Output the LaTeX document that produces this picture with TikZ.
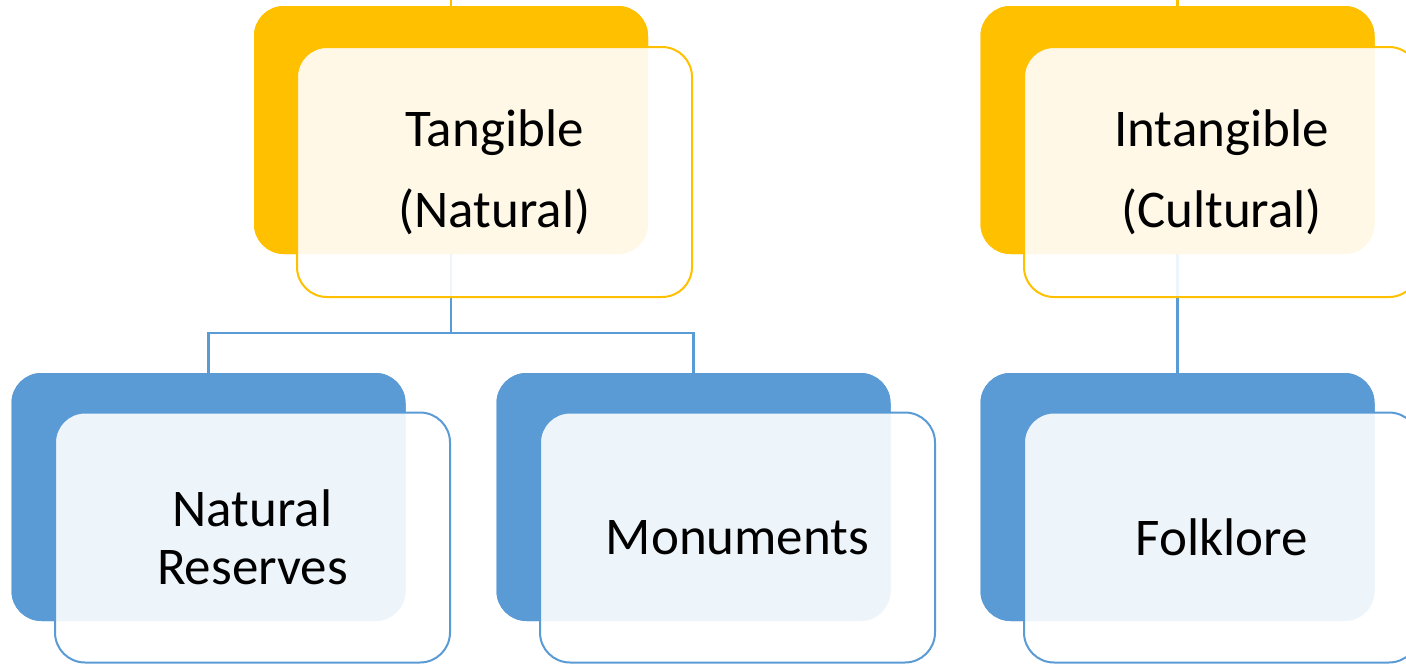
\documentclass[tikz,border=0pt]{standalone}
\usepackage{fontspec}
\setmainfont{Carlito}
\definecolor{gold}{HTML}{FFC000}
\definecolor{sky}{HTML}{5B9BD5}
\begin{document}
\begin{tikzpicture}[x=1pt,y=-1pt,
  back/.style={rectangle,rounded corners=30pt,minimum width=394pt,minimum height=248pt,inner sep=0pt},
  front/.style={rectangle,rounded corners=30pt,minimum width=395pt,minimum height=250pt,inner sep=0pt,
    fill=white,fill opacity=0.9,text opacity=1,line width=2pt,align=center,text=black},
  conn/.style={draw=sky,line width=2.5pt}]
\useasboundingbox (0,0) rectangle (1406,664);
\coordinate (topL) at (451,0);
\coordinate (topR) at (1177.5,0);
\coordinate (bus) at (451,333);
% back boxes (placed first to name them)
\node[back,fill=gold] (tD) at (451,130) {};
\node[back,fill=gold] (iD) at (1177.5,130) {};
\node[back,fill=sky] (nD) at (208.5,497) {};
\node[back,fill=sky] (mD) at (693.5,497) {};
\node[back,fill=sky] (fD) at (1177.5,497) {};
% connectors
\draw[draw=gold,line width=2.5pt] (topL) -- (tD.north);
\draw[draw=gold,line width=2.5pt] (topR) -- (iD.north);
\draw[conn] (tD.south) -- (bus);
\draw[conn] (nD.north) |- (bus) -| (mD.north);
\draw[conn] (iD.south) -- (fD.north);
% redraw back boxes over connectors
\node[back,fill=gold] at (tD) {};
\node[back,fill=gold] at (iD) {};
\node[back,fill=sky] at (nD) {};
\node[back,fill=sky] at (mD) {};
\node[back,fill=sky] at (fD) {};
% front boxes
\node[front,draw=gold,font=\fontsize{53}{81}\selectfont] (tF) at (494.5,172) {Tangible\\(Natural)};
\node[front,draw=gold,font=\fontsize{53}{81}\selectfont] (iF) at (1221.5,172) {Intangible\\(Cultural)};
\node[front,draw=sky,font=\fontsize{53}{58}\selectfont] (nF) at (252.5,537.5) {Natural\\Reserves};
\node[front,draw=sky,font=\fontsize{53}{58}\selectfont] (mF) at (737.5,537.5) {Monuments};
\node[front,draw=sky,font=\fontsize{53}{58}\selectfont] (fF) at (1221.5,537.5) {Folklore};
\end{tikzpicture}
\end{document}
